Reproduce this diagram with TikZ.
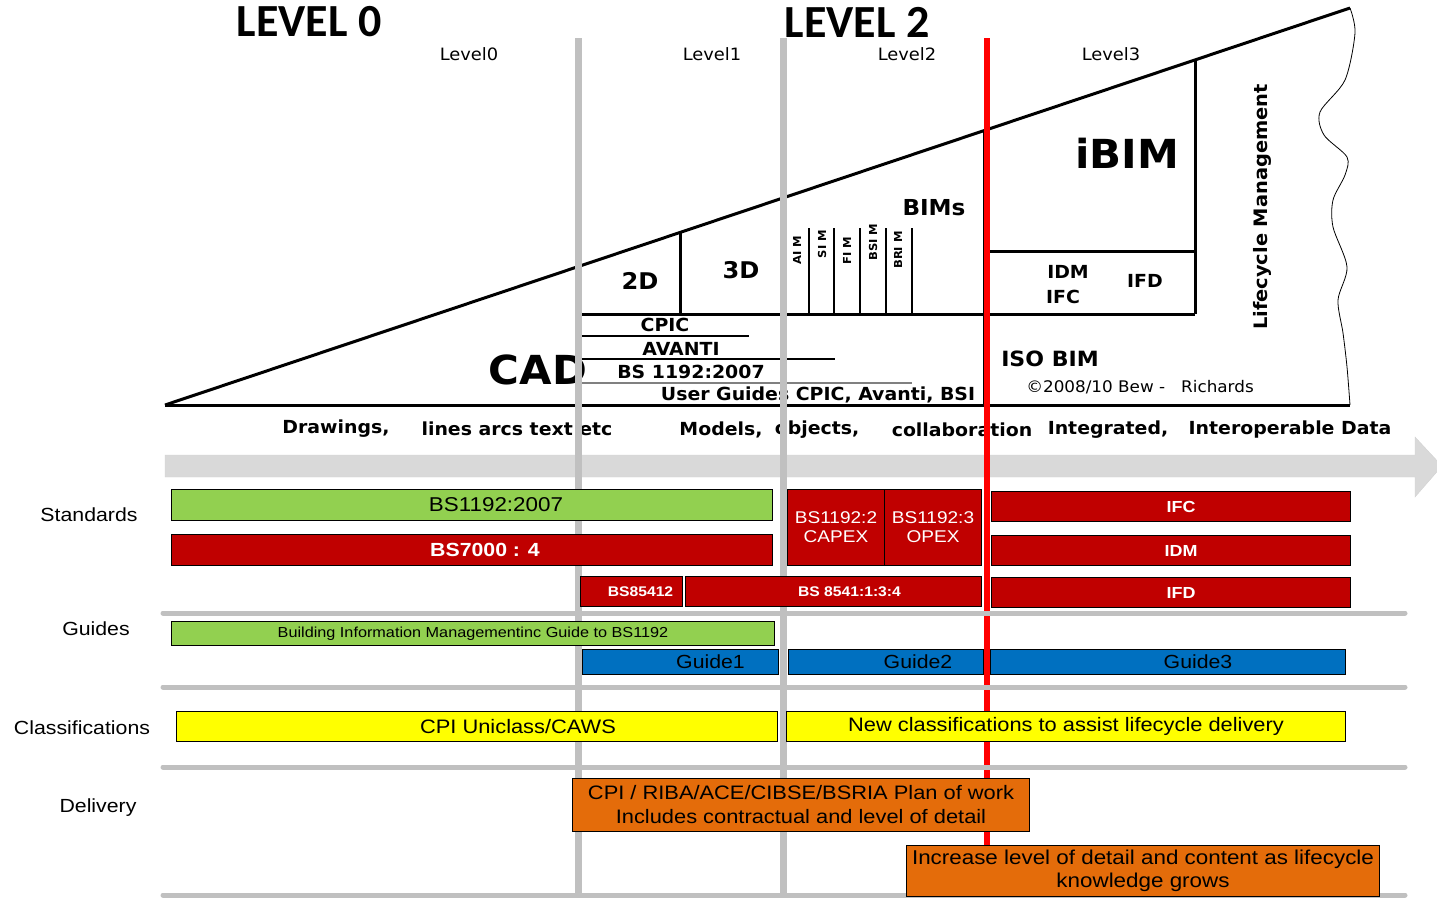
\documentclass[tikz,border=0pt]{standalone}
\usepackage{fontspec}
\setmainfont{Liberation Sans}[FakeStretch=1.12]
\newfontfamily\verd{DejaVu Sans}[FakeStretch=1.05]
\newfontfamily\calib{Carlito}

\definecolor{bsgreen}{HTML}{92D050}
\definecolor{bsred}{HTML}{C00000}
\definecolor{bsblue}{HTML}{0070C0}
\definecolor{bsyellow}{HTML}{FFFF00}
\definecolor{bsorange}{HTML}{E46C0A}
\definecolor{lvlgray}{HTML}{C0C0C0}
\definecolor{bandgray}{HTML}{D9D9D9}

\tikzset{
  title/.style={font=\calib\bfseries\fontsize{46}{50}\selectfont, inner sep=0pt},
  lvl/.style={font=\verd\fontsize{17}{19}\selectfont, inner sep=0pt},
  tri/.style={font=\verd\bfseries\fontsize{18}{20}\selectfont, inner sep=0pt},
  sub/.style={font=\verd\bfseries\fontsize{11}{12}\selectfont, inner sep=0pt, rotate=90},
  row/.style={font=\fontsize{19}{21}\selectfont, inner sep=0pt},
  bar/.style={draw=black, line width=1pt, anchor=north west, inner sep=0pt, align=center,
    font=\fontsize{19.5}{21}\selectfont},
  wbar/.style={bar, fill=bsred, text=white},
  level line/.style={lvlgray, line width=7pt},
  row line/.style={lvlgray, line width=5pt, line cap=round},
}

\begin{document}
\begin{tikzpicture}[x=1pt, y=-1pt]
	\useasboundingbox (0,0) rectangle (1437,898);

	% titles
	\node[title] (lvzero) at (309,22) {LEVEL 0};
	\node[title] (lvtwo) at (857,22) {LEVEL 2};
	\foreach \x/\t [count=\i] in {469/Level0, 712/Level1, 907/Level2, 1111/Level3} {
		\node[lvl] (lvl\i) at (\x,54) {\t};
	}

	% wedge
	\coordinate (tl) at (165,405);
	\coordinate (tr) at (1350,8);
	\coordinate (br) at (1350,405);
	\draw[line width=3pt, line join=round] (tl) -- (tr);
	\draw[line width=3pt] (tl) -- (br);
	\draw[line width=0.8pt] plot[smooth] coordinates {(1350,8) (1355,33) (1345,80) (1320,112) (1324,135) (1347,157) (1345,175) (1333,200) (1333,227) (1347,267) (1338,300) (1343,333) (1347,367) (1350,405)};

	% boxes in the wedge
	\draw[line width=3pt] (582,314) -- (1195,314);
	\draw[line width=3pt] (680,232) -- (680,314);
	\draw[line width=3pt] (984,130) -- (984,405);
	\draw[line width=3pt] (1195,60) -- (1195,314);
	\draw[line width=3pt] (984,251) -- (1195,251);
	\foreach \x in {809,834,860,886,912} {
		\draw[line width=1.2pt] (\x,228) -- (\x,314);
	}
	\draw[line width=1.2pt] (582,336) -- (749,336);
	\draw[line width=1.2pt] (582,359) -- (835,359);
	\draw[line width=1.2pt, gray] (582,383) -- (912,383);

	\node[tri, font=\verd\bfseries\fontsize{23}{25}\selectfont] (twod) at (640,281) {2D};
	\node[tri, font=\verd\bfseries\fontsize{23}{25}\selectfont] (threed) at (741,270) {3D};
	\node[tri, font=\verd\bfseries\fontsize{22}{24}\selectfont] (bims) at (934,208) {BIMs};
	\foreach \x/\y/\t [count=\i] in {797/250/AI M, 822/244/SI M, 847/251/FI M, 873/242/BSI M, 898/250/BRI M} {
		\node[sub] (sub\i) at (\x,\y) {\t};
	}
	\node[tri, font=\verd\bfseries\fontsize{40}{44}\selectfont] (ibim) at (1127,153) {iBIM};
	\node[tri] (idm) at (1068,272) {IDM};
	\node[tri] (ifcw) at (1063,297) {IFC};
	\node[tri] (ifdw) at (1145,281) {IFD};
	\node[tri, font=\verd\bfseries\fontsize{21}{23}\selectfont] (isobim) at (1050,359) {ISO BIM};
	\node[lvl, font=\verd\fontsize{16}{18}\selectfont] (copy) at (1140,387) {\textcopyright2008/10 Bew -\quad Richards};
	\node[tri, font=\verd\bfseries\fontsize{18.5}{20}\selectfont, rotate=90] (life) at (1262,207) {Lifecycle Management};
	\node[tri] (cpic) at (665,325) {CPIC};
	\node[tri] (avanti) at (681,349) {AVANTI};
	\node[tri] (bsdoc) at (691,372) {BS 1192:2007};
	\node[tri] (guides) at (818,395) {User Guides CPIC, Avanti, BSI};
	\node[tri, font=\verd\bfseries\fontsize{40}{44}\selectfont] (cad) at (538,370) {CAD};

	% stages
	\node[tri] (draw) at (336,429) {Drawings,};
	\node[tri] (lines) at (517,429) {lines arcs text etc};
	\node[tri] (models) at (721,430) {Models,};
	\node[tri] (objects) at (817,430) {objects,};
	\node[tri] (collab) at (962,430) {collaboration};
	\node[tri] (integ) at (1108,430) {Integrated,};
	\node[tri] (interop) at (1290,430) {Interoperable Data};

	% arrow band
	\filldraw[fill=bandgray, draw=gray!35] (165,455) -- (1415,455) -- (1415,437) -- (1442,466) -- (1415,497) -- (1415,477) -- (165,477) -- cycle;

	% level lines
	\foreach \x in {578,783} {
		\draw[level line] (\x,38) -- (\x,895);
	}
	\draw[red, line width=6pt] (987,38) -- (987,850);
	\foreach \y in {613,687,767,895} {
		\draw[row line] (163,\y) -- (1405,\y);
	}

	% rows
	\node[row] (stand) at (89,515) {Standards};
	\node[row] (guide) at (96,629) {Guides};
	\node[row] (class) at (82,728) {Classifications};
	\node[row] (deliv) at (98,808) {Delivery};

	% standards
	\node[bar, fill=bsgreen, minimum width=601pt, minimum height=31pt, label={[xshift=24pt, font=\fontsize{20}{22}\selectfont]center:BS1192:2007}] (bsa) at (171,489) {};
	\node[wbar, minimum width=601pt, minimum height=31pt, label={[xshift=13pt, text=white, font=\bfseries\fontsize{19}{21}\selectfont]center:BS7000 : 4}] (bsb) at (171,534) {};
	\node[wbar, minimum width=97pt, minimum height=76pt, font=\fontsize{17}{19}\selectfont] (bsc) at (787,489) {BS1192:2\\CAPEX};
	\node[wbar, minimum width=97pt, minimum height=76pt, font=\fontsize{17}{19}\selectfont] (bsd) at (884,489) {BS1192:3\\OPEX};
	\node[wbar, minimum width=359pt, minimum height=30pt, label={[xshift=10pt, text=white, font=\bfseries\fontsize{16}{18}\selectfont]center:IFC}] (ifc) at (991,491) {};
	\node[wbar, minimum width=359pt, minimum height=30pt, label={[xshift=10pt, text=white, font=\bfseries\fontsize{16}{18}\selectfont]center:IDM}] (idmb) at (991,535) {};
	\node[wbar, minimum width=102pt, minimum height=30pt, label={[xshift=9pt, text=white, font=\bfseries\fontsize{14}{16}\selectfont]center:BS85412}] (bse) at (580,576) {};
	\node[wbar, minimum width=296pt, minimum height=30pt, label={[xshift=16pt, text=white, font=\bfseries\fontsize{14}{16}\selectfont]center:BS 8541:1:3:4}] (bsf) at (685,576) {};
	\node[wbar, minimum width=359pt, minimum height=30pt, label={[xshift=10pt, text=white, font=\bfseries\fontsize{16}{18}\selectfont]center:IFD}] (ifd) at (991,577) {};

	% guides
	\node[bar, fill=bsgreen, minimum width=603pt, minimum height=24pt, font=\fontsize{14.5}{16}\selectfont] (bimg) at (171,621) {Building Information Managementinc Guide to BS1192};
	\node[bar, fill=bsblue, minimum width=196pt, minimum height=25pt, label={[xshift=30pt, font=\fontsize{19}{21}\selectfont]center:Guide1}] (gda) at (582,649) {};
	\node[bar, fill=bsblue, minimum width=195pt, minimum height=25pt, label={[xshift=32pt, font=\fontsize{19}{21}\selectfont]center:Guide2}] (gdb) at (788,649) {};
	\node[bar, fill=bsblue, minimum width=355pt, minimum height=25pt, label={[xshift=30pt, font=\fontsize{19}{21}\selectfont]center:Guide3}] (gdc) at (990,649) {};

	% classifications
	\node[bar, fill=bsyellow, minimum width=601pt, minimum height=30pt, label={[xshift=41pt, font=\fontsize{19.5}{21}\selectfont]center:CPI Uniclass/CAWS}] (cla) at (176,711) {};
	\node[bar, fill=bsyellow, minimum width=559pt, minimum height=30pt] (clb) at (786,711) {New classifications to assist lifecycle delivery};

	% delivery
	\node[bar, fill=bsorange, minimum width=457pt, minimum height=53pt, font=\fontsize{19.5}{24}\selectfont] (dla) at (572,778) {CPI / RIBA/ACE/CIBSE/BSRIA Plan of work\\Includes contractual and level of detail};
	\node[bar, fill=bsorange, minimum width=473pt, minimum height=51pt, font=\fontsize{20}{23}\selectfont] (dlb) at (906,845) {Increase level of detail and content as lifecycle\\knowledge grows};
\end{tikzpicture}
\end{document}
